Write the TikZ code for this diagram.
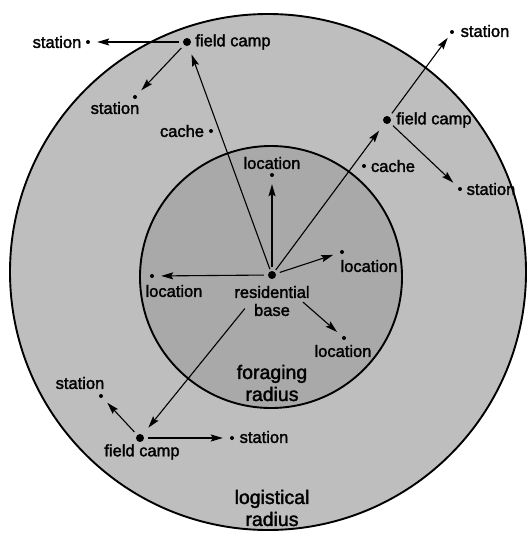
\documentclass[tikz,border=0pt]{standalone}
\usepackage{fontspec}
\setmainfont{Liberation Sans}[RawFeature={embolden=1.8}]
\usetikzlibrary{arrows.meta}
\definecolor{outergrey}{HTML}{BEBEBE}
\definecolor{innergrey}{HTML}{A9A9A9}
\begin{document}
\begin{tikzpicture}[x=1pt,y=-1pt,
  bigdot/.style={circle, fill=black, inner sep=0pt, minimum size=8pt},
  smalldot/.style={circle, fill=black, inner sep=0pt, minimum size=4pt},
  lbl/.style={font=\fontsize{16.5}{18}\selectfont, inner sep=0pt, align=center},
  biglbl/.style={font=\fontsize{19.5}{22}\selectfont, inner sep=0pt, align=center},
  arr/.style={-{Stealth[length=12pt,width=7pt,inset=2pt]}, line width=1.1pt, shorten >=7pt, shorten <=4pt},
  ring/.style={draw=black, line width=1.9pt}]
\useasboundingbox (0,0) rectangle (532,533);

% the two radii
\fill[outergrey] (268,272) circle[radius=258pt];
\draw[ring] (268,272) circle[radius=258pt];
\fill[innergrey] (271,277) circle[radius=131pt];
\draw[ring] (271,277) circle[radius=131pt];

\node[biglbl] (foraging) at (272,383) {foraging\\radius};
\node[biglbl] (logistical) at (272,508) {logistical\\radius};

% residential base and nearby locations
\node[bigdot] (base) at (272,275) {};
\node[lbl] (baselbl) at (272,301) {residential\\base};

\node[smalldot] (locN) at (272,175) {};
\node[lbl] at (272,163) {location};
\node[smalldot] (locW) at (152,276) {};
\node[lbl] at (174,291) {location};
\node[smalldot] (locE) at (342,252) {};
\node[lbl] at (369,266) {location};
\node[smalldot] (locSE) at (344,338) {};
\node[lbl] at (343,351) {location};

% field camps
\node[bigdot] (campNW) at (187,42) {};
\node[lbl] at (233,42) {field camp};
\node[bigdot] (campNE) at (387,120) {};
\node[lbl] at (434,120) {field camp};
\node[bigdot] (campSW) at (140,438) {};
\node[lbl] at (142,452) {field camp};

% caches
\node[smalldot] (cacheNW) at (211,131) {};
\node[lbl] at (182,131) {cache};
\node[smalldot] (cacheNE) at (364,166) {};
\node[lbl] at (393,166) {cache};

% stations
\node[smalldot] (stNWa) at (88,42) {};
\node[lbl] at (57,42) {station};
\node[smalldot] (stNWb) at (135,97) {};
\node[lbl] at (115,108) {station};
\node[smalldot] (stNEa) at (452,32) {};
\node[lbl] at (485,31) {station};
\node[smalldot] (stNEb) at (460,189) {};
\node[lbl] at (491,189) {station};
\node[smalldot] (stSWa) at (101,396) {};
\node[lbl] at (80,383) {station};
\node[smalldot] (stSWb) at (232,438) {};
\node[lbl] at (264,437) {station};

% foraging trips
\draw[arr] (base) -- (locN);
\draw[arr] (base) -- (locW);
\draw[arr] (base) -- (locE);
\draw[arr, shorten <=37pt] (base) -- (locSE);

% logistical moves
\draw[arr, shorten >=9pt, shorten <=2pt] (base) -- (campNW);
\draw[arr, shorten >=9pt, shorten <=2pt] (base) -- (campNE);
\draw[arr, shorten >=9pt, shorten <=39pt] (base) -- (campSW);

\draw[arr] (campNW) -- (stNWa);
\draw[arr] (campNW) -- (stNWb);
\draw[arr, shorten >=5pt] (campNE) -- (stNEa);
\draw[arr] (campNE) -- (stNEb);
\draw[arr] (campSW) -- (stSWa);
\draw[arr] (campSW) -- (stSWb);
\end{tikzpicture}
\end{document}
